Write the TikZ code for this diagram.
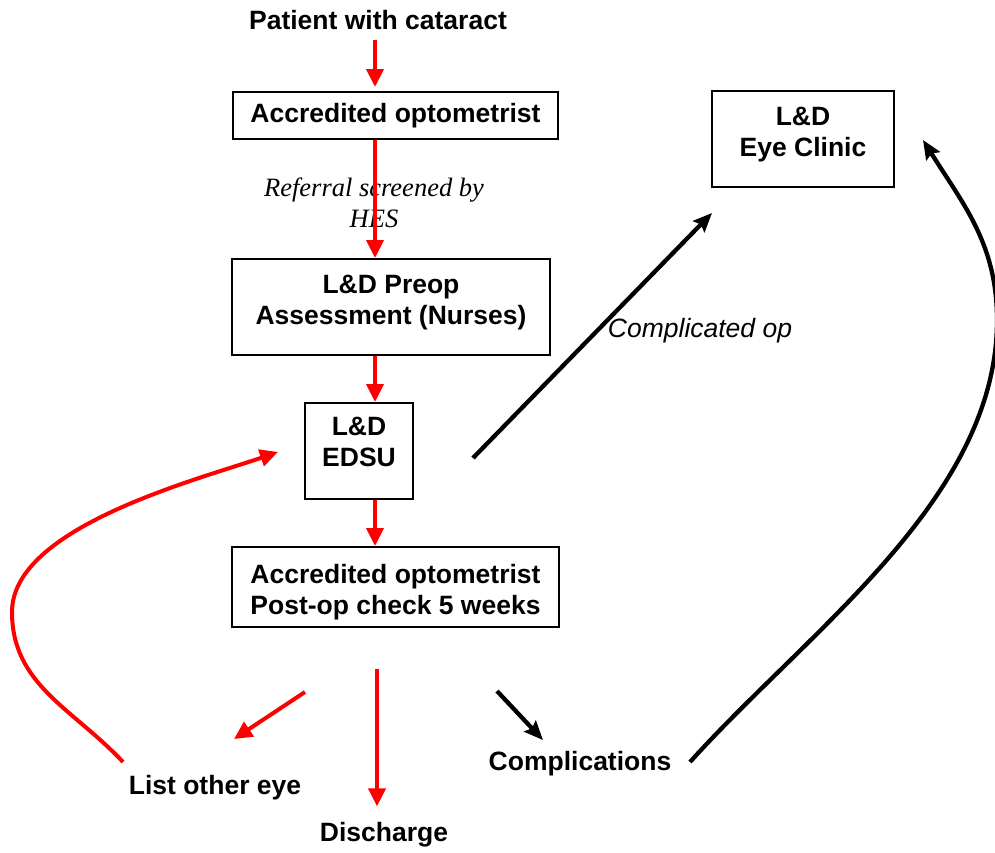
\documentclass[tikz,border=0pt]{standalone}
\usepackage{fontspec}
\setmainfont{Liberation Sans}
\newfontfamily\notefont{Liberation Serif}
\usetikzlibrary{arrows.meta}

\tikzset{
  box/.style={draw, line width=2pt, align=center, inner sep=0pt,
    font=\bfseries\fontsize{26.5}{30.5}\selectfont},
  lbl/.style={align=center, inner sep=2pt, font=\bfseries\fontsize{26.5}{30.5}\selectfont},
  redarr/.style={draw=red, line width=4pt, -{Triangle[length=18pt,width=17pt]}},
  blkarr/.style={draw=black, line width=4.3pt, -{Stealth[length=19pt,width=16pt,inset=3pt]}}
}

\begin{document}
\begin{tikzpicture}[x=1pt,y=1pt]
  \useasboundingbox (0,0) rectangle (995,-852);

  \node[lbl] (patient) at (378,-20) {Patient with cataract};
  \node[box, minimum width=325pt, minimum height=47pt] (opt) at (395.5,-115.5) {Accredited optometrist};
  \node[box, minimum width=318pt, minimum height=96pt] (preop) at (391,-307) {L\&D Preop\\Assessment (Nurses)\\[-16pt]\mbox{}};
  \node[box, minimum width=108pt, minimum height=96pt] (edsu) at (359,-451) {L\&D\\EDSU\\[-12pt]\mbox{}};
  \node[box, minimum width=327pt, minimum height=80pt] (postop) at (395.5,-587) {\mbox{}\\[-1pt]Accredited optometrist\\Post-op check 5 weeks};
  \node[box, minimum width=182pt, minimum height=96pt] (clinic) at (803,-139) {L\&D\\Eye Clinic\\[-16pt]\mbox{}};

  \node[align=center, font=\notefont\itshape\fontsize{26.5}{30.5}\selectfont] (screen) at (374,-203) {Referral screened by\\HES};
  \node[font=\itshape\fontsize{26.5}{30.5}\selectfont] (compop) at (700,-331) {Complicated op};
  \node[lbl] (othereye) at (215,-788) {List other eye};
  \node[lbl] (discharge) at (384,-835) {Discharge};
  \node[lbl] (complic) at (580,-764) {Complications};

  \coordinate (axis) at (375,0);
  \coordinate (daxis) at (377,0);
  \coordinate (listfrom) at (305,-692);
  \coordinate (listto) at (234,-739);
  \coordinate (cfrom) at (497,-691);
  \coordinate (cto) at (543,-740);
  \coordinate (opfrom) at (473,-458);
  \coordinate (opto) at (712,-213);
  \coordinate (backfrom) at (123,-762);
  \coordinate (backleft) at (12,-612);
  \coordinate (backto) at (278,-452);
  \coordinate (clinfrom) at (690,-762);
  \coordinate (clinright) at (997,-320);
  \coordinate (clinto) at (923,-140);

  \draw[redarr, shorten <=8pt, shorten >=4pt] (patient.south -| axis) -- (opt.north -| axis);
  \draw[redarr] (opt.south -| axis) -- (preop.north -| axis);
  \draw[redarr] (preop.south -| axis) -- (edsu.north -| axis);
  \draw[redarr] (edsu.south -| axis) -- (postop.north -| axis);
  \draw[redarr, shorten <=41pt, shorten >=14pt] (postop.south -| daxis) -- (discharge.north -| daxis);
  \draw[redarr] (listfrom) -- (listto);
  \draw[redarr] (backfrom) to[out=133,in=-90] (backleft) to[out=90,in=199,looseness=0.7] (backto);

  \draw[blkarr] (cfrom) -- (cto);
  \draw[blkarr] (opfrom) -- (opto);
  \draw[blkarr] (clinfrom) to[out=48,in=-90,looseness=0.85] (clinright) to[out=90,in=-58] (clinto);
\end{tikzpicture}
\end{document}
